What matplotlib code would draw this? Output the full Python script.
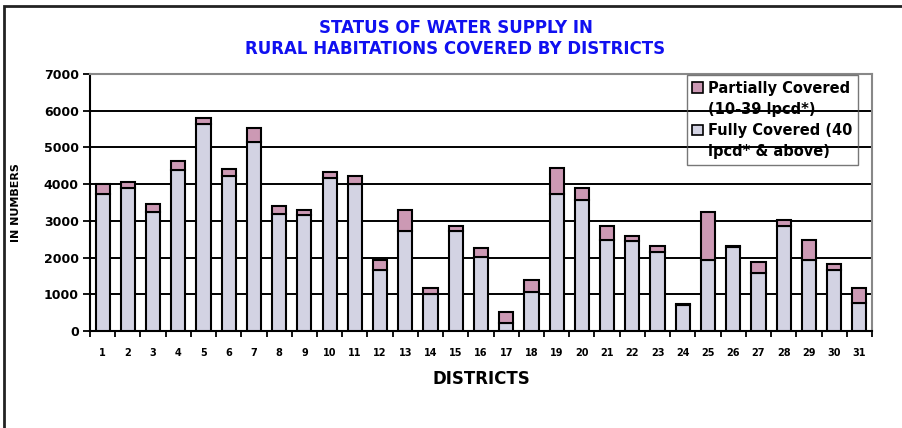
import matplotlib.pyplot as plt
from matplotlib.patches import Rectangle, Patch
import numpy as np

plt.rcParams['font.family'] = ['DejaVu Sans']

districts = [str(i) for i in range(1, 32)]
fully = [3740, 3890, 3240, 4375, 5630, 4220, 5150, 3190, 3170, 4175, 4010, 1665,
         2735, 1005, 2735, 2005, 230, 1050, 3720, 3575, 2480, 2460, 2145, 700,
         1930, 2300, 1570, 2855, 1930, 1660, 775]
total = [4010, 4060, 3465, 4620, 5805, 4400, 5535, 3400, 3300, 4340, 4230, 1930,
         3300, 1185, 2870, 2260, 530, 1395, 4440, 3900, 2870, 2600, 2325, 745,
         3235, 2305, 1870, 3025, 2490, 1825, 1160]
partial = [t - f for t, f in zip(total, fully)]

FULL_C = '#d3d3e3'
PART_C = '#cc99b4'

fig = plt.figure(figsize=(9.02, 4.28), dpi=100)
ax = fig.add_axes([0.0998, 0.2266, 0.8669, 0.6005])

x = np.arange(len(districts))
ax.bar(x, fully, width=0.56, color=FULL_C, edgecolor='black', linewidth=1.5, zorder=3)
ax.bar(x, partial, bottom=fully, width=0.56, color=PART_C, edgecolor='black',
       linewidth=1.5, zorder=3)

ax.set_xlim(-0.5, len(districts) - 0.5)
ax.set_ylim(0, 7000)
ax.set_yticks(range(0, 7001, 1000))
ax.yaxis.grid(True, color='black', linewidth=1.4, zorder=1)
ax.set_axisbelow(True)

ax.set_xticks(x)
ax.set_xticklabels(districts, fontsize=7, fontweight='bold')
ax.set_xticks(np.arange(-0.5, len(districts)), minor=True)
ax.tick_params(axis='x', which='major', length=0, pad=12)
ax.tick_params(axis='x', which='minor', length=4, width=1.3, direction='out')
ax.tick_params(axis='y', length=5, width=1.3, labelsize=9, pad=3)
for lab in ax.get_yticklabels():
    lab.set_fontweight('bold')

for s in ['left', 'bottom']:
    ax.spines[s].set_linewidth(1.5)
    ax.spines[s].set_color('black')
for s in ['top', 'right']:
    ax.spines[s].set_linewidth(1.5)
    ax.spines[s].set_color('#888888')

ax.set_xlabel('DISTRICTS', fontsize=12, fontweight='bold', labelpad=9)
ax.set_ylabel('IN NUMBERS', fontsize=8, fontweight='bold')
ax.yaxis.set_label_coords(-0.088, 0.5)

# legend: each label wraps onto a second line, marker beside the first line
blank = Patch(facecolor='none', edgecolor='none')
handles = [Patch(facecolor=PART_C, edgecolor='black', linewidth=1.2), blank,
           Patch(facecolor=FULL_C, edgecolor='black', linewidth=1.2), blank]
labels = ['Partially Covered', '(10-39 lpcd*)', 'Fully Covered (40', 'lpcd* & above)']
leg = ax.legend(handles, labels, loc='upper right',
                bbox_to_anchor=(0.982, 0.996), borderaxespad=0,
                prop={'weight': 'bold', 'size': 10.5}, frameon=True,
                fancybox=False, handlelength=0.75, handleheight=0.75,
                handletextpad=0.3, borderpad=0.4, labelspacing=0.42)
leg.get_frame().set_facecolor('none')
leg.get_frame().set_edgecolor('#555555')
leg.get_frame().set_linewidth(1.0)

fig.text(0.505, 1 - 28 / 428, 'STATUS OF WATER SUPPLY IN', ha='center', va='center',
         color='#1010f0', fontsize=12, fontweight='bold')
fig.text(0.505, 1 - 48.5 / 428, 'RURAL HABITATIONS COVERED BY DISTRICTS', ha='center',
         va='center', color='#1010f0', fontsize=12, fontweight='bold')

fig.patches.append(Rectangle((4 / 902, -0.1), 1.2, 1 - 6 / 428 + 0.1,
                             transform=fig.transFigure, fill=False,
                             edgecolor='#222222', linewidth=2.0))

fig.savefig('out.png')
